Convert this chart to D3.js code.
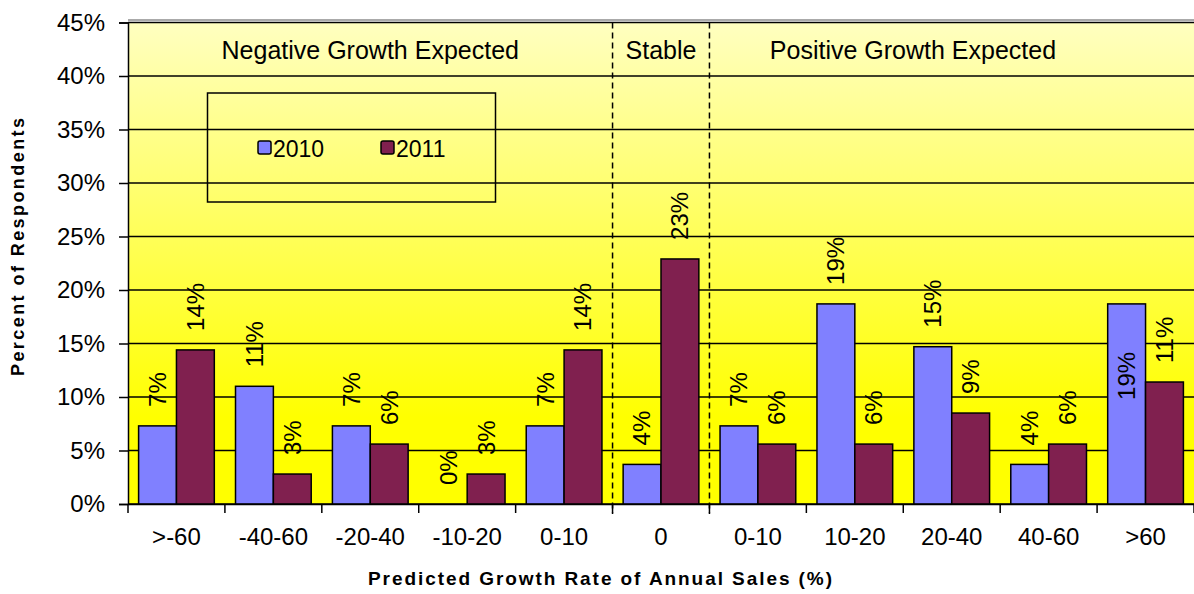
<!DOCTYPE html>
<html>
<head>
<meta charset="utf-8">
<script src="https://cdn.jsdelivr.net/npm/d3@7"></script>
<style>
  html, body { margin: 0; padding: 0; background: #fff; }
  svg { display: block; font-family: "Liberation Sans", Arial, sans-serif; }
</style>
</head>
<body>
<svg id="chart" width="1194" height="594"></svg>
<script>
// ---- data ----
const categories = [">-60", "-40-60", "-20-40", "-10-20", "0-10", "0", "0-10", "10-20", "20-40", "40-60", ">60"];
const seriesNames = ["2010", "2011"];
const values2010 = [7.3, 11.0, 7.3, 0, 7.3, 3.7, 7.3, 18.7, 14.7, 3.7, 18.7];
const values2011 = [14.4, 2.8, 5.6, 2.8, 14.4, 22.9, 5.6, 5.6, 8.5, 5.6, 11.4];
const yTicks = [0, 5, 10, 15, 20, 25, 30, 35, 40, 45];
const sections = [
  { label: "Negative Growth Expected", center: 2.5 },
  { label: "Stable", center: 5.5 },
  { label: "Positive Growth Expected", center: 8.1 }
];
const sectionBreaks = [5, 6];
const insideLabels = [{ series: "2010", index: 10 }];
const colors = { "2010": "#8080FF", "2011": "#80204F" };

// ---- layout ----
const svg = d3.select("#chart");
const pLeft = 128, pRight = 1194, pTop = 22.5, pBottom = 504;
const FONT = "Liberation Sans, Arial, sans-serif";

const x = d3.scaleBand().domain(d3.range(categories.length)).range([pLeft, pRight]).padding(0);
const bw = x.bandwidth();
const xs = d3.scaleBand().domain(seriesNames).range([0, bw]).paddingInner(0).paddingOuter(0.28);
const y = d3.scaleLinear().domain([0, 45]).range([pBottom, pTop]);
const xu = d3.scaleLinear().domain([0, categories.length]).range([pLeft, pRight]);

const defs = svg.append("defs");
const grad = defs.append("linearGradient").attr("id", "bg").attr("x1", 0).attr("y1", 0).attr("x2", 0).attr("y2", 1);
grad.append("stop").attr("offset", "0%").attr("stop-color", "#FFFFC0");
grad.append("stop").attr("offset", "82%").attr("stop-color", "#FFFF00");
grad.append("stop").attr("offset", "100%").attr("stop-color", "#FFFF00");

// plot background
svg.append("rect").attr("x", pLeft).attr("y", pTop).attr("width", pRight - pLeft).attr("height", pBottom - pTop)
  .attr("fill", "url(#bg)");
// chart top border
svg.append("line").attr("x1", pLeft).attr("x2", pRight).attr("y1", pTop - 2.5).attr("y2", pTop - 2.5)
  .attr("stroke", "#aaa").attr("stroke-width", 2);

// gridlines
svg.append("g").selectAll("line").data(yTicks).join("line")
  .attr("x1", pLeft).attr("x2", pRight)
  .attr("y1", d => y(d)).attr("y2", d => y(d))
  .attr("stroke", "#000").attr("stroke-width", 1.5);

// section separators
svg.append("g").selectAll("line").data(sectionBreaks).join("line")
  .attr("x1", d => xu(d)).attr("x2", d => xu(d))
  .attr("y1", pTop).attr("y2", pBottom + 10)
  .attr("stroke", "#000").attr("stroke-width", 1.5).attr("stroke-dasharray", "6,4");

// bars
const rows = [];
categories.forEach((c, i) => {
  rows.push({ i, s: "2010", v: values2010[i] });
  rows.push({ i, s: "2011", v: values2011[i] });
});
svg.append("g").selectAll("rect").data(rows.filter(d => d.v > 0)).join("rect")
  .attr("x", d => x(d.i) + xs(d.s))
  .attr("width", xs.bandwidth())
  .attr("y", d => y(d.v))
  .attr("height", d => y(0) - y(d.v))
  .attr("fill", d => colors[d.s])
  .attr("stroke", "#000").attr("stroke-width", 1.5);

// value labels (rotated)
const isInside = d => insideLabels.some(l => l.series === d.s && l.index === d.i);
svg.append("g").selectAll("text").data(rows).join("text")
  .attr("transform", d => {
    const cx = x(d.i) + xs(d.s) + xs.bandwidth() / 2;
    const cy = isInside(d) ? y(d.v) + 48 : y(d.v) - 19;
    return `translate(${cx},${cy}) rotate(-90)`;
  })
  .attr("text-anchor", d => isInside(d) ? "end" : "start")
  .attr("dy", "0.35em")
  .attr("font-size", 24)
  .attr("fill", "#000")
  .text(d => Math.round(d.v) + "%");

// y axis
const yAxis = svg.append("g").attr("transform", `translate(${pLeft},0)`)
  .call(d3.axisLeft(y).tickValues(yTicks).tickFormat(d => d + "%").tickSize(9).tickPadding(14));
yAxis.select(".domain").attr("stroke", "#000").attr("stroke-width", 1.5);
yAxis.selectAll(".tick line").attr("stroke", "#000").attr("stroke-width", 1.5);
yAxis.selectAll(".tick text").attr("font-size", 24).attr("fill", "#000").attr("font-family", FONT);

// x axis
const xAxis = svg.append("g").attr("transform", `translate(0,${pBottom})`)
  .call(d3.axisBottom(x).tickFormat(i => categories[i]).tickSize(0).tickPadding(24));
xAxis.select(".domain").attr("stroke", "#000").attr("stroke-width", 1.5);
xAxis.selectAll(".tick text").attr("font-size", 24).attr("fill", "#000").attr("font-family", FONT);
svg.append("g").selectAll("line").data(d3.range(categories.length + 1)).join("line")
  .attr("x1", d => xu(d)).attr("x2", d => xu(d))
  .attr("y1", pBottom).attr("y2", pBottom + 9)
  .attr("stroke", "#000").attr("stroke-width", 1.5);

// section headers
svg.append("g").selectAll("text").data(sections).join("text")
  .attr("x", d => xu(d.center)).attr("y", 59)
  .attr("text-anchor", "middle").attr("font-size", 25).attr("fill", "#000")
  .text(d => d.label);

// legend
const lg = svg.append("g");
lg.append("rect").attr("x", 207.5).attr("y", 93).attr("width", 288).attr("height", 109)
  .attr("fill", "none").attr("stroke", "#000").attr("stroke-width", 1.5);
const legendX = [258, 381];
seriesNames.forEach((s, k) => {
  lg.append("rect").attr("x", legendX[k]).attr("y", 141).attr("width", 13).attr("height", 13)
    .attr("rx", 2).attr("fill", colors[s]).attr("stroke", "#000").attr("stroke-width", 1.5);
  lg.append("text").attr("x", legendX[k] + 15).attr("y", 157).attr("font-size", 23).attr("fill", "#000").text(s);
});

// axis titles
svg.append("text").attr("x", 600).attr("y", 585).attr("text-anchor", "middle")
  .attr("font-size", 19).attr("font-weight", "bold").attr("fill", "#000")
  .attr("textLength", 464).attr("lengthAdjust", "spacing")
  .text("Predicted Growth Rate of Annual Sales (%)");
svg.append("text").attr("transform", "translate(24,247) rotate(-90)").attr("text-anchor", "middle")
  .attr("font-size", 18).attr("font-weight", "bold").attr("fill", "#000")
  .attr("textLength", 258).attr("lengthAdjust", "spacing")
  .text("Percent of Respondents");
</script>
</body>
</html>
